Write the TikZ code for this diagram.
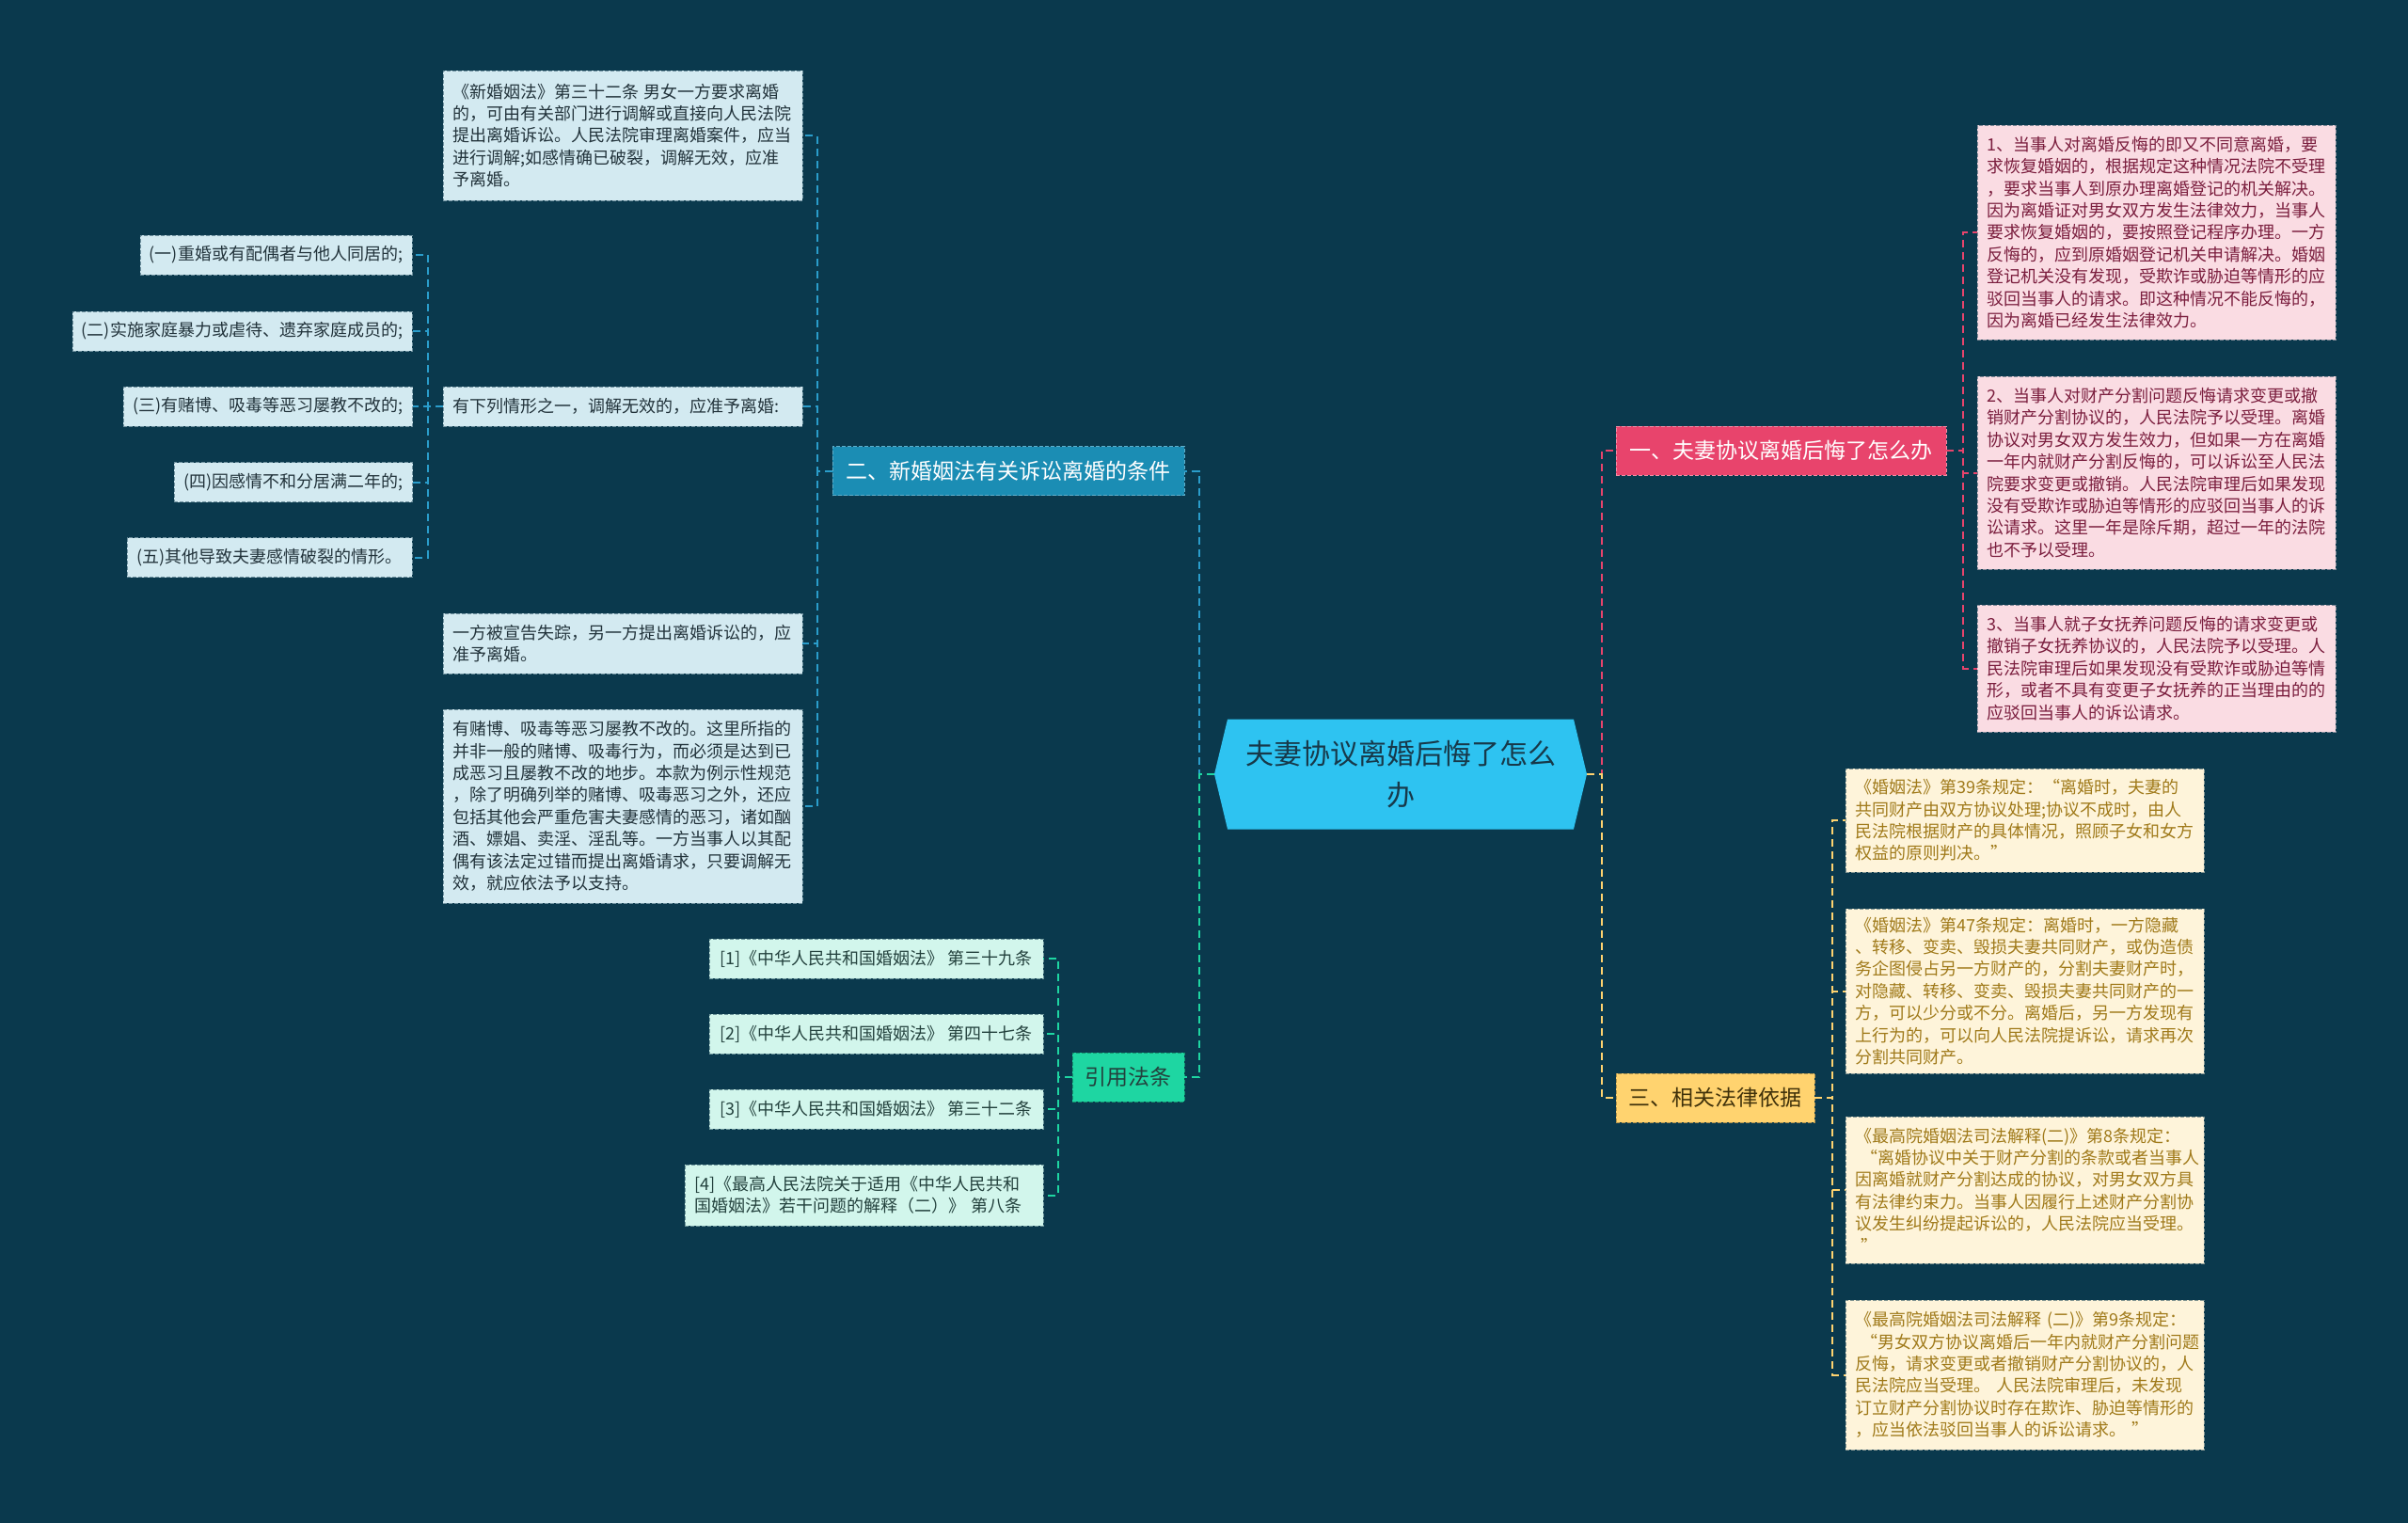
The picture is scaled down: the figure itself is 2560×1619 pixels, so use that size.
\documentclass[tikz,border=0pt]{standalone}
\usepackage{fontspec}
\setmainfont{Noto Sans CJK SC}
\usetikzlibrary{shapes.symbols}
\definecolor{bgcol}{HTML}{0A394D}
\definecolor{midcol}{HTML}{2EC3F1}
\definecolor{midtx}{HTML}{17394A}
\definecolor{bluecol}{HTML}{1B8DB4}
\definecolor{bluelt}{HTML}{D3EAF1}
\definecolor{bluetx}{HTML}{22333B}
\definecolor{bluelin}{HTML}{2A9DCB}
\definecolor{pinkcol}{HTML}{E8446C}
\definecolor{pinklt}{HTML}{FADCE3}
\definecolor{pinktx}{HTML}{7B1E3E}
\definecolor{yelcol}{HTML}{FFD36F}
\definecolor{yellt}{HTML}{FEF4DA}
\definecolor{yeltx}{HTML}{A07A1A}
\definecolor{grncol}{HTML}{1ED6A2}
\definecolor{grnlt}{HTML}{D2F6EC}
\definecolor{grntx}{HTML}{23413D}
\newcommand\leaffont{\fontsize{18}{23.4}\selectfont}
\newcommand\branchfont{\fontsize{23}{28}\selectfont}
\newcommand\midfont{\fontsize{30}{44}\selectfont}
\begin{document}
\begin{tikzpicture}[x=1pt,y=-1pt,
  box/.style={inner xsep=10,inner ysep=0,font=\leaffont,align=left,
    dash pattern=on 4pt off 2pt,line width=0.8},
  leafB/.style={box,fill=bluelt,draw=bluelt!50!bgcol,text=bluetx},
  leafP/.style={box,fill=pinklt,draw=pinklt!50!bgcol,text=pinktx},
  leafY/.style={box,fill=yellt,draw=yellt!50!bgcol,text=yeltx},
  leafG/.style={box,fill=grnlt,draw=grnlt!50!bgcol,text=grntx},
  branch/.style={font=\branchfont,minimum height=52,inner xsep=10,
    dash pattern=on 4pt off 2pt,line width=0.8},
  con/.style={line width=2,dash pattern=on 8pt off 5pt},
  elbow/.style={to path={-- ++(#1,0) |- (\tikztotarget)}},
]
\useasboundingbox (0,0) rectangle (2560,1619);
\fill[bgcol] (0,0) rectangle (2560,1619);
% centre
\node[signal,signal to=west and east,signal pointer angle=153,fill=midcol,
  minimum width=396,minimum height=117,text=midtx,font=\midfont,align=center]
  (C) at (1489,823) {夫妻协议离婚后悔了怎么\\办};
% branches
\node[branch,fill=pinkcol,draw=pinkcol!60!white,text=white,minimum width=351] (B1) at (1893.5,479) {一、夫妻协议离婚后悔了怎么办};
\node[branch,fill=bluecol,draw=bluecol!70!white,text=white,minimum width=374] (B2) at (1072,500.5) {二、新婚姻法有关诉讼离婚的条件};
\node[branch,fill=yelcol,draw=yelcol!70!black,text=yeltx!40!black,minimum width=211] (B3) at (1823.5,1167) {三、相关法律依据};
\node[branch,fill=grncol,draw=grncol!70!black,text=grntx,minimum width=119] (B4) at (1199.5,1145) {引用法条};
% left: conditions
\node[leafB,text width=362,minimum height=138] (L1) at (662,144) {《新婚姻法》第三十二条~男女一方要求离婚\\的，可由有关部门进行调解或直接向人民法院\\提出离婚诉讼。人民法院审理离婚案件，应当\\进行调解;如感情确已破裂，调解无效，应准\\予离婚。};
\node[leafB,text width=362,minimum height=42] (L2) at (662,432) {有下列情形之一，调解无效的，应准予离婚:};
\node[leafB,text width=362,minimum height=64] (L3) at (662,684) {一方被宣告失踪，另一方提出离婚诉讼的，应\\准予离婚。};
\node[leafB,text width=362,minimum height=206] (L4) at (662,857) {有赌博、吸毒等恶习屡教不改的。这里所指的\\并非一般的赌博、吸毒行为，而必须是达到已\\成恶习且屡教不改的地步。本款为例示性规范\\，除了明确列举的赌博、吸毒恶习之外，还应\\包括其他会严重危害夫妻感情的恶习，诸如酗\\酒、嫖娼、卖淫、淫乱等。一方当事人以其配\\偶有该法定过错而提出离婚请求，只要调解无\\效，就应依法予以支持。};
\node[leafB,minimum width=289,minimum height=42] (S1) at (293.5,271) {(一)重婚或有配偶者与他人同居的;};
\node[leafB,minimum width=361,minimum height=42] (S2) at (257.5,352) {(二)实施家庭暴力或虐待、遗弃家庭成员的;};
\node[leafB,minimum width=306,minimum height=42] (S3) at (285,432) {(三)有赌博、吸毒等恶习屡教不改的;};
\node[leafB,minimum width=252,minimum height=42] (S4) at (312,512.5) {(四)因感情不和分居满二年的;};
\node[leafB,minimum width=303,minimum height=42] (S5) at (286.5,592.5) {(五)其他导致夫妻感情破裂的情形。};
% left: cited articles
\node[leafG,minimum width=355,minimum height=42] (C1) at (931.5,1019) {[1]《中华人民共和国婚姻法》~第三十九条};
\node[leafG,minimum width=355,minimum height=42] (C2) at (931.5,1099) {[2]《中华人民共和国婚姻法》~第四十七条};
\node[leafG,minimum width=355,minimum height=42] (C3) at (931.5,1179) {[3]《中华人民共和国婚姻法》~第三十二条};
\node[leafG,text width=361,minimum height=65] (C4) at (918.5,1270.5) {[4]《最高人民法院关于适用《中华人民共和\\国婚姻法》若干问题的解释（二）》~第八条};
% right: regret
\node[leafP,text width=361,minimum height=228] (R1) at (2292.5,247) {1、当事人对离婚反悔的即又不同意离婚，要\\求恢复婚姻的，根据规定这种情况法院不受理\\，要求当事人到原办理离婚登记的机关解决。\\因为离婚证对男女双方发生法律效力，当事人\\要求恢复婚姻的，要按照登记程序办理。一方\\反悔的，应到原婚姻登记机关申请解决。婚姻\\登记机关没有发现，受欺诈或胁迫等情形的应\\驳回当事人的请求。即这种情况不能反悔的，\\因为离婚已经发生法律效力。};
\node[leafP,text width=361,minimum height=205] (R2) at (2292.5,502.5) {2、当事人对财产分割问题反悔请求变更或撤\\销财产分割协议的，人民法院予以受理。离婚\\协议对男女双方发生效力，但如果一方在离婚\\一年内就财产分割反悔的，可以诉讼至人民法\\院要求变更或撤销。人民法院审理后如果发现\\没有受欺诈或胁迫等情形的应驳回当事人的诉\\讼请求。这里一年是除斥期，超过一年的法院\\也不予以受理。};
\node[leafP,text width=361,minimum height=135] (R3) at (2292.5,710.5) {3、当事人就子女抚养问题反悔的请求变更或\\撤销子女抚养协议的，人民法院予以受理。人\\民法院审理后如果发现没有受欺诈或胁迫等情\\形，或者不具有变更子女抚养的正当理由的的\\应驳回当事人的诉讼请求。};
% right: legal basis
\node[leafY,text width=361,minimum height=110] (Y1) at (2152.5,872) {《婚姻法》第39条规定：“离婚时，夫妻的\\共同财产由双方协议处理;协议不成时，由人\\民法院根据财产的具体情况，照顾子女和女方\\权益的原则判决。”};
\node[leafY,text width=361,minimum height=175] (Y2) at (2152.5,1053.5) {《婚姻法》第47条规定：离婚时，一方隐藏\\、转移、变卖、毁损夫妻共同财产，或伪造债\\务企图侵占另一方财产的，分割夫妻财产时，\\对隐藏、转移、变卖、毁损夫妻共同财产的一\\方，可以少分或不分。离婚后，另一方发现有\\上行为的，可以向人民法院提诉讼，请求再次\\分割共同财产。};
\node[leafY,text width=361,minimum height=156] (Y3) at (2152.5,1265) {《最高院婚姻法司法解释(二)》第8条规定：\\~“离婚协议中关于财产分割的条款或者当事人\\因离婚就财产分割达成的协议，对男女双方具\\有法律约束力。当事人因履行上述财产分割协\\议发生纠纷提起诉讼的，人民法院应当受理。\\~”};
\node[leafY,text width=361,minimum height=159] (Y4) at (2152.5,1461.5) {《最高院婚姻法司法解释~(二)》第9条规定：\\~“男女双方协议离婚后一年内就财产分割问题\\反悔，请求变更或者撤销财产分割协议的，人\\民法院应当受理。~人民法院审理后，未发现\\订立财产分割协议时存在欺诈、胁迫等情形的\\，应当依法驳回当事人的诉讼请求。~”};
\path
  (C.west) edge[con,draw=bluelin,elbow=-16] (B2.east)
  (C.west) edge[con,draw=grncol,elbow=-16] (B4.east)
  (C.east) edge[con,draw=pinkcol,elbow=16] (B1.west)
  (C.east) edge[con,draw=yelcol,elbow=16] (B3.west)
  (B2.west) edge[con,draw=bluelin,elbow=-16] (L1.east)
  (B2.west) edge[con,draw=bluelin,elbow=-16] (L2.east)
  (B2.west) edge[con,draw=bluelin,elbow=-16] (L3.east)
  (B2.west) edge[con,draw=bluelin,elbow=-16] (L4.east)
  (L2.west) edge[con,draw=bluelin,elbow=-16] (S1.east)
  (L2.west) edge[con,draw=bluelin,elbow=-16] (S2.east)
  (L2.west) edge[con,draw=bluelin,elbow=-16] (S3.east)
  (L2.west) edge[con,draw=bluelin,elbow=-16] (S4.east)
  (L2.west) edge[con,draw=bluelin,elbow=-16] (S5.east)
  (B4.west) edge[con,draw=grncol,elbow=-15] (C1.east)
  (B4.west) edge[con,draw=grncol,elbow=-15] (C2.east)
  (B4.west) edge[con,draw=grncol,elbow=-15] (C3.east)
  (B4.west) edge[con,draw=grncol,elbow=-15] (C4.east)
  (B1.east) edge[con,draw=pinkcol,elbow=18] (R1.west)
  (B1.east) edge[con,draw=pinkcol,elbow=18] (R2.west)
  (B1.east) edge[con,draw=pinkcol,elbow=18] (R3.west)
  (B3.east) edge[con,draw=yelcol,elbow=19] (Y1.west)
  (B3.east) edge[con,draw=yelcol,elbow=19] (Y2.west)
  (B3.east) edge[con,draw=yelcol,elbow=19] (Y3.west)
  (B3.east) edge[con,draw=yelcol,elbow=19] (Y4.west)
;
\end{tikzpicture}
\end{document}
